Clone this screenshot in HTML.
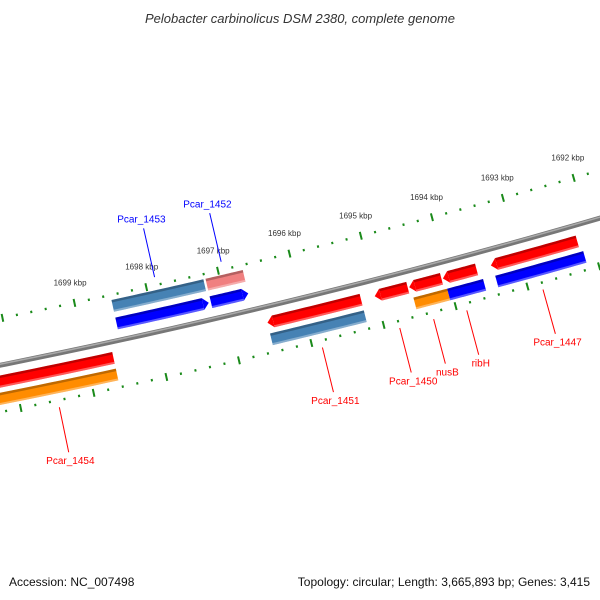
<!DOCTYPE html>
<html><head><meta charset="utf-8"><style>
html,body{margin:0;padding:0;background:#fff}
svg{display:block}
text{font-family:"Liberation Sans","DejaVu Sans",sans-serif}
</style></head><body>
<svg id="map" width="600" height="600" viewBox="0 0 600 600" xmlns="http://www.w3.org/2000/svg">
<rect width="600" height="600" fill="#fff"/>
<text x="300" y="23" text-anchor="middle" font-size="13" font-style="italic" fill="#333">Pelobacter carbinolicus DSM 2380, complete genome</text>
<text x="9" y="586" font-size="12" fill="#111">Accession: NC_007498</text>
<text x="590" y="586" text-anchor="end" font-size="12" fill="#111">Topology: circular; Length: 3,665,893 bp; Genes: 3,415</text>
<g id="layer"></g>
</svg>
<script>
// data
const geneNames = ["Pcar_1454","Pcar_1454","Pcar_1453","Pcar_1453","Pcar_1452","Pcar_1452","Pcar_1451","Pcar_1451","Pcar_1450","nusB","nusB","ribH","ribH","Pcar_1447","Pcar_1447"];
const geneStarts = [1701.5,1701.5,1698.50,1698.50,1697.19,1697.19,1696.51,1696.51,1695.02,1694.54,1694.52,1694.07,1694.05,1693.40,1693.38];
const geneEnds   = [1698.64,1698.64,1697.22,1697.22,1696.67,1696.67,1695.21,1695.21,1694.56,1694.09,1694.05,1693.60,1693.55,1692.19,1692.15];
const geneRings  = ["inner1","inner2","outer2","outer1","outer2","outer1","inner1","inner2","inner1","inner1","inner2","inner1","inner2","inner1","inner2"];
const geneColors = ["#ff0000","#ff8c00","#4682b4","#0000ff","#f08080","#0000ff","#ff0000","#4682b4","#ff0000","#ff0000","#ff8c00","#ff0000","#0000ff","#ff0000","#0000ff"];
const geneArrows = ["none","none","none","right","none","right","left","none","left","left","none","left","none","left","none"];
const tickLabels = [1699,1698,1697,1696,1695,1694,1693,1692];
const calloutNames = ["Pcar_1453","Pcar_1452","Pcar_1454","Pcar_1451","Pcar_1450","nusB","ribH","Pcar_1447"];
const calloutPos = [1697.86,1696.93,1699.49,1695.87,1694.80,1694.33,1693.87,1692.81];
const calloutSide = ["outer","outer","inner","inner","inner","inner","inner","inner"];
const calloutColor = ["#0000ff","#0000ff","#ff0000","#ff0000","#ff0000","#ff0000","#ff0000","#ff0000"];

const NS="http://www.w3.org/2000/svg";
const layer=document.getElementById('layer');
const CX=-1445, CY=-6826;
function ang(k){return (12.61+(1698-k)*0.578)*Math.PI/180;}
function pt(k,r){const a=ang(k);return [CX+r*Math.sin(a), CY+r*Math.cos(a)];}
const ringR={outer2:7300,outer1:7318,inner1:7351,inner2:7368};
const HW=6;
function mk(tag,attrs){const e=document.createElementNS(NS,tag);for(const k in attrs)e.setAttribute(k,attrs[k]);layer.appendChild(e);return e;}
function band(k1,k2,r1,r2){
  const n=16;let p=[];
  for(let i=0;i<=n;i++){p.push(pt(k1+(k2-k1)*i/n,r1));}
  for(let i=n;i>=0;i--){p.push(pt(k1+(k2-k1)*i/n,r2));}
  return p.map(q=>q[0].toFixed(2)+","+q[1].toFixed(2)).join(" ");
}
function arcLine(k1,k2,r){
  const n=30;let d="";
  for(let i=0;i<=n;i++){const q=pt(k1+(k2-k1)*i/n,r);d+=(i?"L":"M")+q[0].toFixed(2)+" "+q[1].toFixed(2);}
  return d;
}
// backbone
let bb=mk('path',{d:arcLine(1702,1690.5,7335),stroke:"#777",'stroke-width':5,fill:"none"});


let bb2=mk('path',{d:arcLine(1702,1690.5,7334),stroke:"#aaa",'stroke-width':1.5,fill:"none"});



// ticks
[7289,7381].forEach((R,ri)=>{
  for(let i=0;i<=50;i++){
    const k=1691.4+i*0.2;
    const major=Math.abs(k-Math.round(k))<0.01;
    const len=major?4:1.2;
    const a=pt(k,R-len),b=pt(k,R+len);
    let t=mk('line',{x1:a[0],y1:a[1],x2:b[0],y2:b[1],stroke:"#1a8a1a",'stroke-width':2});
    
    
  }
});
tickLabels.forEach(k=>{
  const p=pt(k,7268);
  let t=mk('text',{x:p[0],y:p[1]+3,'text-anchor':'middle','font-size':8,fill:"#333"});
  t.textContent=k+" kbp";
  
  
});

// genes
geneNames.forEach((nm,i)=>{
  const r=ringR[geneRings[i]];let k1=geneStarts[i],k2=geneEnds[i];
  const head=0.08;
  let body1=k1,body2=k2;
  if(geneArrows[i]==="right")body2=k2+head;
  if(geneArrows[i]==="left")body1=k1-head;
  let pts=band(body1,body2,r-HW,r+HW);
  if(geneArrows[i]!=="none"){
    const tipK=geneArrows[i]==="right"?k2:k1;
    const baseK=geneArrows[i]==="right"?body2:body1;
    const a=pt(baseK,r-HW),c=pt(baseK,r+HW),tip=pt(tipK,r);
    let h=mk('polygon',{points:[a,tip,c].map(q=>q.join(",")).join(" "),fill:geneColors[i]});
    
    
  }
  let g=mk('polygon',{points:pts,fill:geneColors[i]});
  
  
  let top=mk('polygon',{points:band(body1,body2,r-HW,r-HW+2.5),fill:"#000",'fill-opacity':0.25});
  
  
  let bot=mk('polygon',{points:band(body1,body2,r+HW-2,r+HW),fill:"#fff",'fill-opacity':0.35});
  
  
});

// callouts
calloutNames.forEach((nm,i)=>{
  const k=calloutPos[i];
  let a,b,lp;
  if(calloutSide[i]==="outer"){a=pt(k,7281);b=pt(k,7231);lp=pt(k,7221);}
  else{a=pt(k,7388);b=pt(k,7434);lp=pt(k,7442);}
  let l=mk('line',{x1:a[0],y1:a[1],x2:b[0],y2:b[1],stroke:calloutColor[i],'stroke-width':1});
  
  
  let t=mk('text',{x:lp[0],y:lp[1]+4,'text-anchor':'middle','font-size':10,fill:calloutColor[i]});
  t.textContent=nm;
  
  
});
</script>
</body></html>
